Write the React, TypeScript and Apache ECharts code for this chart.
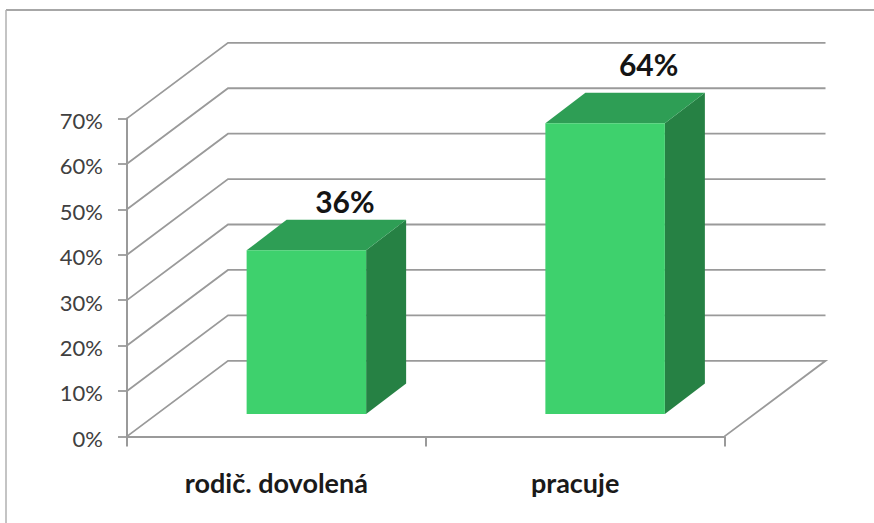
import React, { useEffect, useRef } from "react";
import * as echarts from "echarts";

const categories = ["rodič. dovolená", "pracuje"];
const barValues = [36, 64];
const gridValues = [0, 10, 20, 30, 40, 50, 60, 70];

const GRAY = "#9a9a9a";
const DX = 101;
const DY = -75.6;
const FONT = "Lato, Carlito, sans-serif";

function renderGrid(params: any, api: any) {
  const cs = params.coordSys;
  const v = api.value(1);
  const y = api.coord([0, v])[1];
  const pts: number[][] = [
    [cs.x, y],
    [cs.x + DX, y + DY],
    [cs.x + cs.width + DX, y + DY],
  ];
  if (v === 0) pts.push([cs.x + cs.width, y]);
  return {
    type: "polyline",
    shape: { points: pts },
    style: { stroke: GRAY, lineWidth: 1.8, fill: "none" },
    silent: true,
  };
}

function renderBar(params: any, api: any) {
  const i = api.value(0);
  const v = api.value(1);
  const c = api.coord([i, v]);
  const z = api.coord([i, 0]);
  const w = 119.5;
  const fx = 30;
  const fy = -22.5;
  const sx = 40;
  const sy = -30.5;
  const l = c[0] + fx - w / 2;
  const r = l + w;
  const t = c[1] + fy;
  const b = z[1] + fy;
  const labelShift = i === 0 ? [38.5, -49] : [43.5, -59];
  return {
    type: "group",
    children: [
      {
        type: "polygon",
        shape: { points: [[r, t], [r + sx, t + sy], [r + sx, b + sy], [r, b]] },
        style: { fill: "#268144" },
      },
      {
        type: "polygon",
        shape: { points: [[l, t], [l + sx, t + sy], [r + sx, t + sy], [r, t]] },
        style: { fill: "#2e9e55" },
      },
      {
        type: "rect",
        shape: { x: l, y: t, width: w, height: b - t },
        style: { fill: "#3ed16d" },
      },
      {
        type: "text",
        style: {
          text: `${v}%`,
          x: (l + r) / 2 + labelShift[0],
          y: t + labelShift[1],
          align: "center",
          verticalAlign: "middle",
          fill: "#141414",
          font: `bold 30px ${FONT}`,
        },
      },
    ],
  };
}

export default function App() {
  const ref = useRef<HTMLDivElement>(null);
  useEffect(() => {
    const chart = echarts.init(ref.current!, undefined, { renderer: "svg" });
    chart.setOption({
      animation: false,
      backgroundColor: "#ffffff",
      grid: { left: 127, top: 118.4, width: 597.5, height: 318 },
      xAxis: {
        type: "category",
        data: categories,
        axisLine: { lineStyle: { color: GRAY, width: 2 } },
        axisTick: { show: true, length: 10, lineStyle: { color: GRAY, width: 2 } },
        axisLabel: {
          color: "#1a1a1a",
          fontFamily: FONT,
          fontWeight: "bold",
          fontSize: 27,
          margin: 33,
        },
      },
      yAxis: {
        type: "value",
        min: 0,
        max: 70,
        interval: 10,
        axisLine: { show: true, lineStyle: { color: GRAY, width: 2 } },
        axisTick: { show: true, length: 9, lineStyle: { color: GRAY, width: 1.8 } },
        splitLine: { show: false },
        axisLabel: {
          formatter: "{value}%",
          color: "#404040",
          fontFamily: FONT,
          fontSize: 22,
          margin: 24,
          verticalAlign: "top",
          lineHeight: 4,
        },
      },
      graphic: [
        {
          type: "line",
          shape: { x1: 6, y1: 10, x2: 874, y2: 10 },
          style: { stroke: "#8a8a8a", lineWidth: 1.5 },
        },
        {
          type: "line",
          shape: { x1: 6, y1: 10, x2: 6, y2: 523 },
          style: { stroke: "#b0b0b0", lineWidth: 1.5 },
        },
      ],
      series: [
        {
          type: "custom",
          z: 1,
          renderItem: renderGrid,
          data: gridValues.map((v) => [0, v]),
          encode: { x: 0, y: 1 },
          silent: true,
        },
        {
          type: "custom",
          z: 3,
          renderItem: renderBar,
          data: barValues.map((v, i) => [i, v]),
          encode: { x: 0, y: 1 },
          silent: true,
        },
      ],
    });
    return () => chart.dispose();
  }, []);
  return (
    <div
      ref={ref}
      style={{ position: "absolute", left: 0, top: 0, width: 874, height: 523 }}
    />
  );
}
